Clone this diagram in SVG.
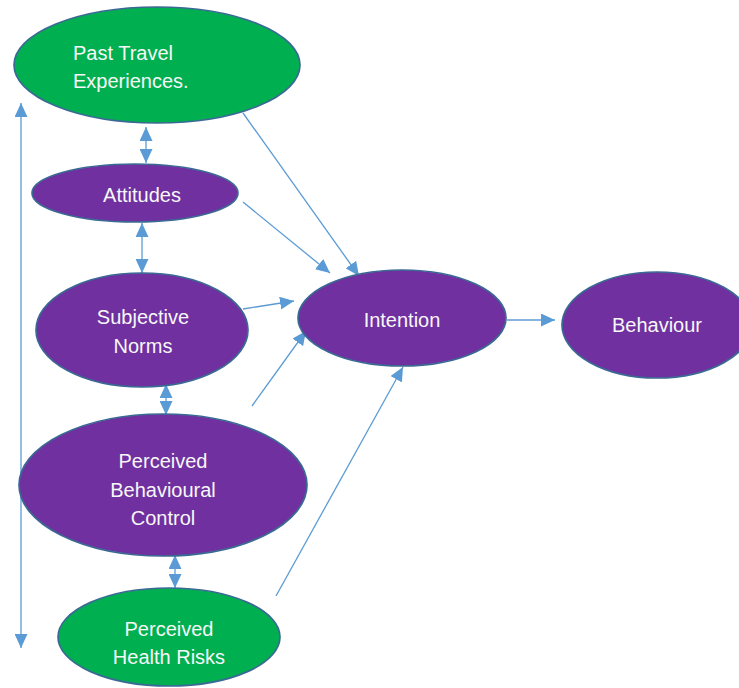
<svg xmlns="http://www.w3.org/2000/svg" width="739" height="688" viewBox="0 0 739 688">
<style>
.g{fill:#00B050;stroke:#3A6A94;stroke-width:1.7}
.p{fill:#7030A0;stroke:#3A6A94;stroke-width:1.7}
.t{font-family:"Liberation Sans",Arial,sans-serif;font-size:20px;fill:#F7F7F7}
.c{text-anchor:middle}
.l{stroke:#5B9BD5;stroke-width:1.3;fill:none}
</style>
<defs>
<marker id="a" markerUnits="userSpaceOnUse" markerWidth="15" markerHeight="13" refX="14" refY="6.5" orient="auto-start-reverse" viewBox="0 0 15 13">
<path d="M0,0 L14,6.5 L0,13 Z" fill="#5B9BD5"/>
</marker>
</defs>
<rect width="739" height="688" fill="#FFFFFF"/>
<g id="connectors">
<line class="l" x1="21" y1="103" x2="21" y2="648" marker-start="url(#a)" marker-end="url(#a)"/>
<line class="l" x1="146" y1="127" x2="146" y2="163" marker-start="url(#a)" marker-end="url(#a)"/>
<line class="l" x1="142" y1="223" x2="142" y2="273" marker-start="url(#a)" marker-end="url(#a)"/>
<line class="l" x1="166" y1="384" x2="166" y2="415" marker-start="url(#a)" marker-end="url(#a)"/>
<line class="l" x1="175" y1="555" x2="175" y2="588" marker-start="url(#a)" marker-end="url(#a)"/>
<line class="l" x1="243" y1="113" x2="359" y2="276" marker-end="url(#a)"/>
<line class="l" x1="243" y1="202" x2="330" y2="273" marker-end="url(#a)"/>
<line class="l" x1="243" y1="309" x2="294" y2="301" marker-end="url(#a)"/>
<line class="l" x1="252" y1="406" x2="306" y2="331" marker-end="url(#a)"/>
<line class="l" x1="276" y1="596" x2="403" y2="367" marker-end="url(#a)"/>
<line class="l" x1="507" y1="320" x2="555" y2="320" marker-end="url(#a)"/>
</g>
<g id="past-travel">
<ellipse class="g" cx="157" cy="65" rx="143" ry="58"/>
<text class="t" x="73" y="60">Past Travel</text>
<text class="t" x="73" y="88">Experiences.</text>
</g>
<g id="attitudes">
<ellipse class="p" cx="135" cy="193" rx="103" ry="29"/>
<text class="t c" x="142" y="202">Attitudes</text>
</g>
<g id="subjective-norms">
<ellipse class="p" cx="142" cy="330" rx="106" ry="57"/>
<text class="t c" x="143" y="324">Subjective</text>
<text class="t c" x="143" y="353">Norms</text>
</g>
<g id="pbc">
<ellipse class="p" cx="163" cy="485" rx="144" ry="71"/>
<text class="t c" x="163" y="468">Perceived</text>
<text class="t c" x="163" y="497">Behavioural</text>
<text class="t c" x="163" y="525">Control</text>
</g>
<g id="health-risks">
<ellipse class="g" cx="169" cy="637" rx="111" ry="49"/>
<text class="t c" x="169" y="636">Perceived</text>
<text class="t c" x="169" y="664">Health Risks</text>
</g>
<g id="intention">
<ellipse class="p" cx="402" cy="318" rx="104" ry="48"/>
<text class="t c" x="402" y="327">Intention</text>
</g>
<g id="behaviour">
<ellipse class="p" cx="657" cy="325" rx="95" ry="53"/>
<text class="t c" x="657" y="332">Behaviour</text>
</g>
</svg>
